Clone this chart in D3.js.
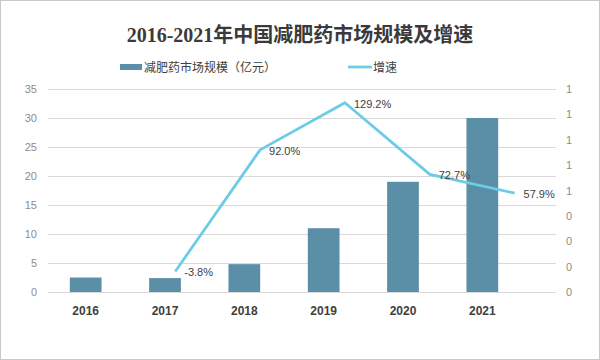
<!DOCTYPE html>
<html><head><meta charset="utf-8">
<script src="https://cdn.jsdelivr.net/npm/d3@7"></script>
<style>html,body{margin:0;padding:0;background:#fff;}svg{display:block;}</style>
</head><body>
<svg id="c" width="600" height="360"></svg>
<script>
const categories = ["2016","2017","2018","2019","2020","2021"];
const marketSize = [2.5, 2.4, 4.8, 11.0, 19.0, 30.0];
const growthYears = ["2017","2018","2019","2020","2021"];
const growthRate = [-0.038, 0.920, 1.292, 0.727, 0.579];
const growthLabels = ["-3.8%","92.0%","129.2%","72.7%","57.9%"];
const leftTicks = [0,5,10,15,20,25,30,35];
const rightTicks = [-0.2,0,0.2,0.4,0.6,0.8,1.0,1.2,1.4];
const rightTickLabels = ["0","0","0","0","1","1","1","1","1"];
const title = "2016-2021年中国减肥药市场规模及增速";
const legendNames = ["减肥药市场规模（亿元）","增速"];

const svg = d3.select("#c");
const barColor = "#5b8ea7", lineColor = "#6ccbe6";
const cjk = "'Liberation Sans','Noto Sans CJK SC',sans-serif";

svg.append("rect").attr("x",0.5).attr("y",0.5).attr("width",599).attr("height",359)
  .attr("fill","#fff").attr("stroke","#c8c8c8");

const yL = d3.scaleLinear().domain([0,35]).range([292,89]);
const yR = d3.scaleLinear().domain([-0.2,1.4]).range([292,89]);
const xBar = d3.scaleBand().domain(categories).range([46,522]).paddingInner(0.6).paddingOuter(0.3);
const xLine = d3.scaleBand().domain(categories).range([48,557]);

// gridlines
svg.append("g").selectAll("line").data(leftTicks).join("line")
  .attr("x1",48).attr("x2",556).attr("y1",d=>Math.round(yL(d))+0.5).attr("y2",d=>Math.round(yL(d))+0.5)
  .attr("stroke","#d9d9d9").attr("stroke-width",1);

// left axis
const gL = svg.append("g").attr("transform","translate(40,0)")
  .call(d3.axisLeft(yL).tickValues(leftTicks).tickSize(0).tickPadding(3));
gL.select(".domain").remove();
gL.selectAll("text").attr("fill","#8c8c8c").style("font-family",cjk).style("font-size","11px");

// right axis
const gR = svg.append("g").attr("transform","translate(566,0)")
  .call(d3.axisRight(yR).tickValues(rightTicks).tickSize(0).tickPadding(0)
    .tickFormat((d,i)=>rightTickLabels[i]));
gR.select(".domain").remove();
gR.selectAll("text").attr("fill","#8c8c8c").style("font-family",cjk).style("font-size","11px");

// x axis labels
const gX = svg.append("g").attr("transform","translate(0,303)")
  .call(d3.axisBottom(xBar).tickSize(0).tickPadding(3));
gX.select(".domain").remove();
gX.selectAll("text").attr("fill","#404040").style("font-family",cjk).style("font-size","12px").style("font-weight","bold");

// bars
svg.append("g").selectAll("rect").data(categories).join("rect")
  .attr("x",d=>xBar(d)).attr("width",xBar.bandwidth())
  .attr("y",(d,i)=>yL(marketSize[i])).attr("height",(d,i)=>yL(0)-yL(marketSize[i]))
  .attr("fill",barColor);

// line
const pts = growthYears.map((y,i)=>[xLine(y)+xLine.bandwidth()/2, yR(growthRate[i])]);
svg.append("path").attr("d",d3.line()(pts)).attr("fill","none")
  .attr("stroke",lineColor).attr("stroke-width",2.75).attr("stroke-linejoin","round");

svg.append("g").selectAll("text").data(growthLabels).join("text")
  .attr("x",(d,i)=>pts[i][0]+9).attr("y",(d,i)=>pts[i][1]+5)
  .text(d=>d).attr("fill","#404040").style("font-family",cjk).style("font-size","11px");

// title
svg.append("text").attr("x",300).attr("y",42).attr("text-anchor","middle")
  .text(title).attr("fill","#3a3a3a")
  .style("font-family","'Liberation Serif','Noto Sans CJK SC',serif").style("font-size","20px").style("font-weight","bold");

// legend
svg.append("rect").attr("x",120).attr("y",64).attr("width",22).attr("height",6).attr("fill",barColor);
svg.append("text").attr("x",144).attr("y",71.5).text(legendNames[0]).attr("fill","#404040")
  .style("font-family",cjk).style("font-size","12px");
svg.append("line").attr("x1",348).attr("x2",372).attr("y1",67).attr("y2",67).attr("stroke",lineColor).attr("stroke-width",2.75);
svg.append("text").attr("x",373).attr("y",71.5).text(legendNames[1]).attr("fill","#404040")
  .style("font-family",cjk).style("font-size","12px");
</script>
</body></html>
